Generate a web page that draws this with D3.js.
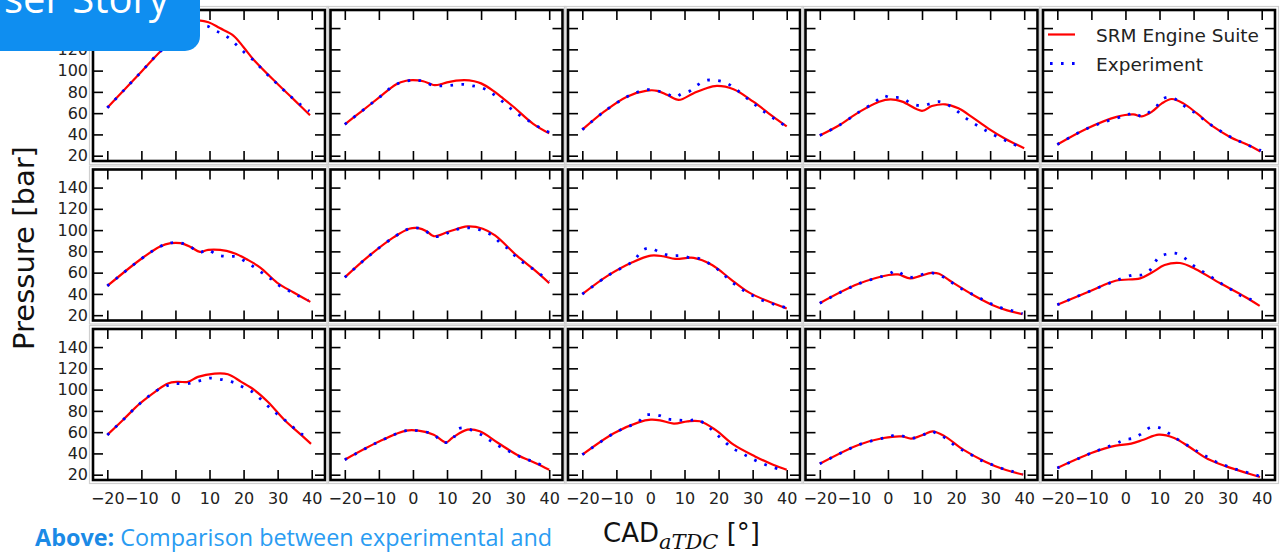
<!DOCTYPE html>
<html><head><meta charset="utf-8">
<script src="https://cdn.jsdelivr.net/npm/d3@7"></script>
<style>body{margin:0;background:#fff;} svg{display:block}</style>
</head><body><svg id="c" width="1285" height="554"></svg>
<script>
// ---- data: [CAD aTDC (deg), pressure (bar)] ----
const xTicks = [-20, -10, 0, 10, 20, 30, 40];
const yTicks = [20, 40, 60, 80, 100, 120, 140];
const legendLabels = ["SRM Engine Suite", "Experiment"];
const yAxisTitle = "Pressure [bar]";
const captionBold = "Above:";
const captionText = " Comparison between experimental and";
const bannerText = "ser Story";

const sim01 = [[-20,65],[-15,82],[-10,99],[-4.5,117.8],[0,131],[3,139],[5,143.5],[7,147],[9.7,145.5],[13,140],[17,133],[20,122],[22.9,110.5],[29.7,88.3],[35,72],[39.5,58]];
const exp01 = [[-20,65],[-15,82],[-10,99],[-4.5,117.8],[0,129],[3,135.5],[6,140.5],[9.2,142],[11.7,137.4],[13.7,135],[16.1,129.5],[18.3,123],[20.6,116],[23,109.5],[25.1,102.5],[27.4,95],[29.6,88.3],[32,81],[34.2,74.6],[36.6,68.3],[39.3,62]];
const sim02 = [[-20,49.5],[-15,62],[-10,74.5],[-5,87],[-2,90.5],[0,91],[3,90],[6,86.5],[8,87],[10,89],[15,91],[18,90],[20,88],[23.6,81],[26,75],[29.5,66],[35.3,50],[40,41]];
const exp02 = [[-20,49.5],[-15,62],[-10,74.5],[-5,87],[0,91],[3,90],[6,86],[9.2,85.7],[11.9,86.4],[14.8,87],[17.5,85.7],[20.5,83.5],[22.9,79.4],[25.4,73.3],[27.8,66.7],[30.3,60.3],[32.9,55],[35.6,49.5],[38.3,44.5],[40,42]];
const sim03 = [[-20,44.5],[-13.8,61],[-6.9,75.5],[-1,81.2],[2,81],[5,77],[8.3,72.4],[12.7,78.8],[16,83],[19.5,85.7],[24.4,82.5],[30.2,70.8],[36.1,56.5],[40,47.5]];
const exp03 = [[-20,44.5],[-13.8,61],[-6.9,75.5],[-4.2,79.3],[-1,82],[2,81],[4.9,77.9],[7.4,75],[9,78],[11.7,81],[13.9,86.7],[16.4,90.8],[19.1,90.8],[22,88.8],[24.7,83.5],[27.2,77],[29.6,70.8],[32.1,64.5],[34.8,58],[37.4,52.7],[40,47]];
const sim04 = [[-20,39],[-14.3,48.6],[-8.4,61.2],[-2.6,70.8],[0.8,73],[4.2,70.8],[10,62.2],[12.9,66.7],[16.8,68.3],[20.7,64.5],[24.6,56.5],[29.5,45.4],[34.4,35.9],[40,27]];
const exp04 = [[-20,39],[-14.3,48.6],[-8.4,61.2],[-4,70],[-1.4,76.2],[0.7,74.6],[2.6,74.8],[4.6,73.7],[6.4,69.8],[8.3,67.5],[10.5,67.3],[12.7,69.2],[15,70.8],[17.5,68],[19.9,63],[22.4,56.5],[25,50.8],[27.8,45.4],[30.4,40.6],[33.4,36],[36,32],[39,28]];
const sim05 = [[-20,30.5],[-11.4,45.4],[-2.6,56.5],[2.3,58.8],[4.8,57],[7.7,61.2],[10.7,69.2],[13.6,73.3],[17,69.2],[21,59.7],[25.9,47],[30.8,37.4],[35.7,30.5],[39.6,24]];
const exp05 = [[-20,30.5],[-11.4,45.4],[-5,53],[0.3,58],[2.5,60.3],[4.8,57],[6.7,60.3],[9,66],[10.9,73.3],[13.1,75],[15.7,71],[18,65],[20.7,59.7],[23.2,53.4],[25.7,47.6],[28.4,42.2],[31.3,36.8],[34,32.7],[36.9,28.6],[39.8,24.9]];
const sim06 = [[-20,47.5],[-9.9,73.3],[-4.5,84.6],[-1.4,87.7],[1.5,87.7],[4.5,84],[7.2,79.5],[9.6,81.4],[15,80.5],[18,77.3],[20.9,72.6],[24.9,64.8],[29.8,50.7],[34.7,41.3],[39.6,32.5]];
const exp06 = [[-20,47.5],[-9.9,73.3],[-4.5,84.6],[-1.4,88],[1.5,88],[4.5,84],[7,79],[9.5,81.4],[12.2,76.7],[15.1,75.2],[17.9,75],[20.5,70.5],[23,65.4],[25.6,59.5],[28.2,53.8],[30.6,47.5],[33.4,42.8],[36.2,38],[39,34]];
const sim07 = [[-20,55.6],[-12.8,76],[-5.6,93.4],[-1.1,101.3],[1.6,101.9],[4,99],[6.1,94.3],[10.6,98.7],[16,103.5],[20.5,101.3],[24.1,95],[30.5,76],[35.9,61.9],[40,50.2]];
const exp07 = [[-20,55.6],[-12.8,76],[-5.6,93.4],[-1.1,101.3],[1.6,101.9],[3.4,99.7],[6.1,94.3],[8.3,94.3],[10.6,98],[12.8,100.6],[15.5,102.2],[18.2,101.3],[20.9,98.7],[23.6,94.3],[25.9,87],[28.3,81.7],[30.8,72.9],[33.5,67.2],[35.9,61.9],[38.2,56.5],[40,52]];
const sim08 = [[-20,39.8],[-12.5,57.2],[-5.3,69.8],[0.1,76],[3.7,75.4],[7.3,72.9],[12.7,73.9],[18.1,67.2],[23.5,54],[28.9,41.4],[34.2,33.5],[40,26.3]];
const exp08 = [[-20,39.8],[-12.5,57.2],[-5.3,70.5],[-2,81.7],[0.1,83],[2.3,79.8],[4.6,77],[6.8,76],[9.1,76],[11.8,73.9],[14.1,73.5],[16.6,69.8],[19,65],[21.3,58.7],[23.8,51.5],[26.7,44.6],[29.2,39.8],[32.1,35],[35.1,31.3],[37.8,28.8],[40,27]];
const sim09 = [[-20,31.3],[-8.8,49.3],[0.2,57.8],[3,58.3],[6.5,54.6],[9.5,57],[12.8,59.7],[15,59],[18.2,52.4],[25.4,38.3],[30.8,29.4],[35,24.5],[39.5,21]];
const exp09 = [[-20,31.3],[-8.8,49.3],[0.2,58.5],[2.3,61.9],[4.6,57.8],[7,55.6],[9.5,57.8],[11.8,59.7],[14.5,58.7],[17.2,54],[19.9,48.3],[22.6,43],[25.7,38.3],[28.5,33.5],[31.2,29.4],[33.9,26.3],[36.6,24.1],[39.5,21.5]];
const sim10 = [[-20,29.8],[-10.1,43],[-2.9,52.4],[4.3,54.6],[7.9,60.3],[11.5,67.2],[16,69.1],[20.5,63.5],[27.7,50.2],[34.9,37.6],[39.4,28.8]];
const exp10 = [[-20,29.8],[-10.1,43],[-2.9,52.4],[2.2,57.8],[4.7,57.8],[7.1,61.9],[9.8,74.5],[12.2,77.5],[14.6,78.3],[17.3,73.9],[20,66.6],[22.7,61],[25.4,55.6],[28.1,49.9],[30.8,44.6],[33.5,38.9],[36.2,35.7],[38.9,31.3]];
const sim11 = [[-20,57.4],[-15.4,71.5],[-10.4,87],[-5.6,98.9],[-2.2,105.8],[0.7,107.3],[3.7,107.3],[6.6,112],[11.5,115.1],[15.4,114.5],[19.3,107.3],[23.2,99.5],[27.1,88.6],[32,71.5],[36.9,57.4],[39.8,49]];
const exp11 = [[-20,57.4],[-15.4,71.5],[-10.4,87],[-5.6,98.9],[-2.2,104],[-0.3,105.5],[3.3,105.5],[5.2,106.8],[7.7,108.8],[10.1,110.8],[12.6,110],[15,108.5],[17.5,106.3],[19.9,102.3],[22.3,98.5],[24.8,91.7],[27.2,84.4],[29.4,78.2],[31.9,71.9],[34.4,65],[36.8,58.8],[39.5,53.6]];
const sim12 = [[-20,34.1],[-9.2,52.3],[-2,61.4],[1.6,61.4],[6.1,57.6],[9.7,50.4],[11.5,54.5],[16,62.3],[19.6,60.8],[25,49.8],[30.5,38.8],[35.9,31],[40,24.7]];
const exp12 = [[-20,34.1],[-9.2,52.3],[-2,61.4],[1.6,61.4],[6.1,57.6],[8.8,50.4],[11.5,52.3],[13.2,62.9],[15.6,63.9],[17.8,60.8],[20.1,57.6],[22.3,52.9],[25,47.3],[27.7,42.9],[30.1,38.8],[33.1,34.7],[35.9,31.6],[38.6,27.8]];
const sim13 = [[-20,38.8],[-10.6,59.2],[-3.5,69.2],[0.1,71.7],[2.8,71.1],[6.9,68],[10.9,70.2],[14.5,70.2],[19,62.3],[24.4,48.2],[30.7,37.2],[36,29.4],[40,24.7]];
const exp13 = [[-20,38.8],[-10.6,59.2],[-3.5,70],[-1.7,75.8],[0.6,76.4],[2.8,75.5],[5,72.4],[7.3,71.7],[9.5,71.1],[11.8,71.1],[13.9,71.7],[16.6,66.1],[19,59.2],[21.7,51.3],[24,45],[26.7,40.4],[29.4,35.7],[32.1,31.6],[35.1,27.8],[37.8,25.3]];
const sim14 = [[-20,30.3],[-8.5,48.2],[-1.3,54.5],[4.1,56],[6.8,53.9],[10.4,57.6],[13.1,60.8],[16.7,56],[22.1,43.5],[28.4,32.5],[33.8,25.3],[39.7,20]];
const exp14 = [[-20,30.3],[-8.5,48.2],[-1.3,54.5],[0.5,56],[2.8,57.6],[5.4,55.4],[7.7,54.5],[10.4,57.6],[12.7,60.8],[14.9,57.6],[17.2,53.9],[19.9,46.6],[22.6,41.9],[25.3,37.2],[28,32.5],[31.1,28.8],[33.8,25.6],[36.5,23.1],[39.5,20.5]];
const sim15 = [[-20,26.3],[-10,40.4],[-2.8,47.3],[1.7,49.2],[5.3,52.9],[9.8,57.6],[14.3,54.5],[18.8,46],[24.2,34.7],[29.6,27.8],[35,22.2],[39.5,17.8]];
const exp15 = [[-20,26.3],[-10,40.4],[-2.8,49.2],[-0.1,52.9],[2.6,54.5],[5,59.2],[7.5,64.8],[10.2,63.9],[12.9,58.6],[15.2,53.5],[17.9,48.2],[20.6,42.9],[23.3,37.9],[26.4,32.5],[29.2,28.8],[31.9,25.6],[34.6,23.1],[37.1,20.9],[39.5,18.4]];

const simSeries = [sim01,sim02,sim03,sim04,sim05,sim06,sim07,sim08,sim09,sim10,sim11,sim12,sim13,sim14,sim15];
const expSeries = [exp01,exp02,exp03,exp04,exp05,exp06,exp07,exp08,exp09,exp10,exp11,exp12,exp13,exp14,exp15];

// ---- layout ----
const svg = d3.select("#c");
const W = 232, H = 151, left0 = 93, pitchX = 237.5, top0 = 10, pitchY = 159.5;
const tickFont = "'DejaVu Sans', sans-serif";
const fmt = d => (d < 0 ? "\u2212" + Math.abs(d) : String(d));
let legendScales = null;

for (let r = 0; r < 3; r++) {
  for (let c = 0; c < 5; c++) {
    const i = r * 5 + c;
    const x0 = left0 + c * pitchX, y0 = top0 + r * pitchY;
    const x = d3.scaleLinear().domain([-24.2, 43.9]).range([x0, x0 + W]);
    const y = d3.scaleLinear().domain([15, 157]).range([y0 + H, y0]);
    if (i === 4) legendScales = {x, y, x0, y0};
    const g = svg.append("g");

    g.append("rect").attr("x", x0 - 3.5).attr("y", y0 - 3.5)
      .attr("width", W + 7).attr("height", H + 7)
      .attr("fill", "none").attr("stroke", "#cfcfcf").attr("stroke-width", 1.2);

    const styleAxis = (sel) => {
      sel.select(".domain").remove();
      sel.selectAll(".tick line").attr("stroke", "#000").attr("stroke-width", 1.6);
      sel.selectAll(".tick text").attr("fill", "#222")
        .style("font-family", tickFont).style("font-size", "16px");
    };

    // the top-left "140" label of the first panel lies fully under the banner
    const yFmt = c === 0 ? (d => (r === 0 && d === 140 ? "" : fmt(d))) : () => "";

    g.append("g").attr("transform", `translate(0,${y0 + H})`)
      .call(d3.axisBottom(x).tickValues(xTicks).tickSize(-10).tickPadding(13)
        .tickFormat(r === 2 ? fmt : () => ""))
      .call(styleAxis);
    g.append("g").attr("transform", `translate(0,${y0})`)
      .call(d3.axisTop(x).tickValues(xTicks).tickSize(-10).tickFormat(() => ""))
      .call(styleAxis);
    g.append("g").attr("transform", `translate(${x0},0)`)
      .call(d3.axisLeft(y).tickValues(yTicks).tickSize(-10).tickPadding(5).tickFormat(yFmt))
      .call(styleAxis);
    g.append("g").attr("transform", `translate(${x0 + W},0)`)
      .call(d3.axisRight(y).tickValues(yTicks).tickSize(-10).tickFormat(() => ""))
      .call(styleAxis);

    const line = d3.line().x(d => x(d[0])).y(d => y(d[1])).curve(d3.curveCatmullRom.alpha(0.5));
    g.append("path").datum(simSeries[i]).attr("d", line)
      .attr("fill", "none").attr("stroke", "#ff0000").attr("stroke-width", 2.2)
      .attr("stroke-linejoin", "round");
    g.append("path").datum(expSeries[i]).attr("d", line)
      .attr("fill", "none").attr("stroke", "#0000ff").attr("stroke-width", 2.8)
      .attr("stroke-dasharray", "2.6 8.4");

    g.append("rect").attr("x", x0).attr("y", y0).attr("width", W).attr("height", H)
      .attr("fill", "none").attr("stroke", "#000").attr("stroke-width", 2.6);
  }
}

// ---- legend (first row, last panel) ----
{
  const lx = legendScales.x0 + 5, ly = legendScales.y0;
  const lg = svg.append("g");
  lg.append("line").attr("x1", lx).attr("x2", lx + 27).attr("y1", ly + 24.5).attr("y2", ly + 24.5)
    .attr("stroke", "#ff0000").attr("stroke-width", 2.2);
  lg.append("line").attr("x1", lx + 2).attr("x2", lx + 30).attr("y1", ly + 53.5).attr("y2", ly + 53.5)
    .attr("stroke", "#0000ff").attr("stroke-width", 2.8).attr("stroke-dasharray", "2.6 8.4");
  lg.selectAll("text").data(legendLabels).join("text")
    .attr("x", lx + 48).attr("y", (d, k) => ly + 31.5 + k * 29)
    .attr("fill", "#222").style("font-family", tickFont).style("font-size", "18.5px")
    .text(d => d);
}

// ---- axis titles ----
svg.append("text").attr("transform", "translate(34,248) rotate(-90)")
  .attr("text-anchor", "middle").attr("fill", "#111")
  .style("font-family", tickFont).style("font-size", "29px").text(yAxisTitle);

{
  const t = svg.append("text").attr("x", 603).attr("y", 542).attr("fill", "#111")
    .style("font-family", tickFont).style("font-size", "26px");
  t.append("tspan").text("CAD");
  t.append("tspan").attr("dy", 7).style("font-family", "'DejaVu Serif', serif")
    .style("font-style", "italic").style("font-size", "21px").text("aTDC");
  t.append("tspan").attr("dy", -7).text(" [\u00b0]");
}

// ---- caption ----
{
  const t = svg.append("text").attr("x", 35).attr("y", 546)
    .style("font-family", "'Open Sans', sans-serif").style("font-size", "23.4px");
  t.append("tspan").attr("fill", "#1b8ae6").style("font-weight", "bold").text(captionBold);
  t.append("tspan").attr("fill", "#2a9cf2").text(captionText);
}

// ---- banner overlay ----
svg.append("rect").attr("x", -20).attr("y", -20).attr("width", 220).attr("height", 71)
  .attr("rx", 15).attr("fill", "#0f8ef0");
svg.append("text").attr("x", 4).attr("y", 13).attr("fill", "#fff")
  .style("font-family", "'Open Sans', sans-serif").style("font-size", "40px").text(bannerText);
</script></body></html>
